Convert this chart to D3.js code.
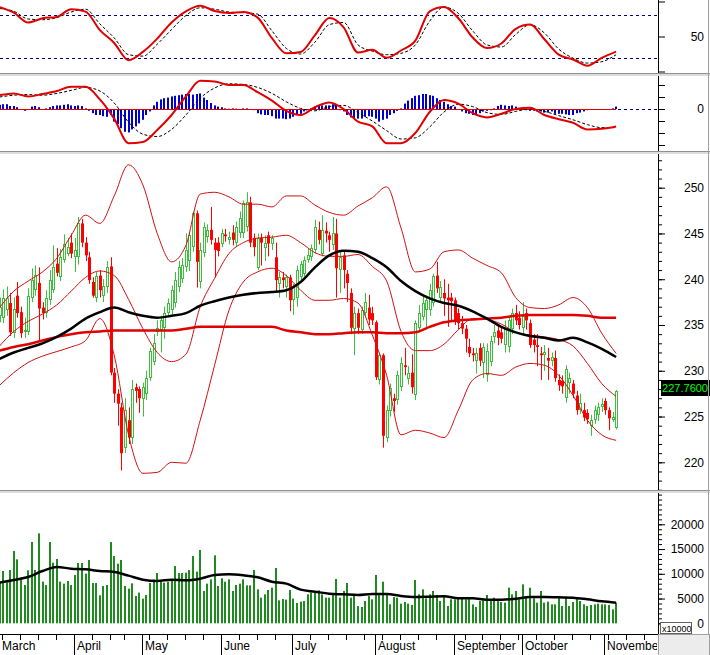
<!DOCTYPE html>
<html>
<head>
<meta charset="utf-8">
<script src="https://cdn.jsdelivr.net/npm/d3@7/dist/d3.min.js"></script>
<style>
  body { margin: 0; background: #fff; }
  svg { display: block; }
  text { font-family: "Liberation Sans", Arial, sans-serif; font-size: 12px; fill: #000; }
</style>
</head>
<body>
<svg id="chart" width="710" height="655"></svg>
<script>
// ---- data (index = trading day from 1 March) ----
const monthLabels = ['March','April','May','June','July','August','September','October','November'];
const holidays = ['2024-04-18','2024-04-29','2024-04-30','2024-05-01','2024-09-02','2024-09-03'];

const opens = [236.0,235.8,236.6,237.4,234.1,238.2,236.4,234.2,234.2,238.0,
  238.8,239.6,236.9,236.3,237.7,238.8,241.7,240.2,242.1,242.8,
  244.0,242.4,242.4,246.1,244.0,242.4,239.7,238.0,240.4,238.2,
  239.1,241.4,229.8,227.5,226.0,221.6,224.6,222.7,228.2,228.0,
  226.9,227.5,229.2,231.0,234.2,234.4,234.7,236.3,236.6,237.4,
  239.1,240.0,241.3,242.0,243.5,247.2,239.7,242.9,244.6,245.4,
  244.0,244.0,243.9,244.9,244.3,245.1,244.0,245.0,245.1,245.7,
  248.4,244.5,241.2,244.5,243.4,244.8,243.9,242.4,239.5,240.2,
  239.1,240.2,237.7,238.0,240.2,240.6,242.1,242.4,243.2,245.4,
  242.8,245.3,244.8,243.7,245.0,241.0,242.6,240.6,238.5,234.6,
  236.3,234.4,236.3,236.9,236.3,235.3,229.0,231.7,222.7,225.6,
  227.0,226.8,228.2,230.6,229.1,229.8,227.3,234.7,235.9,236.6,
  236.6,237.4,240.4,238.0,238.5,238.0,238.0,237.7,236.3,235.2,
  234.6,232.6,231.9,231.1,232.5,230.8,229.5,231.0,233.7,234.4,
  234.2,232.8,232.6,234.6,236.3,235.8,234.7,236.3,235.2,233.4,
  232.8,231.9,231.7,231.4,231.1,231.4,229.0,228.9,227.0,228.7,
  228.6,227.3,225.7,225.7,225.4,224.0,224.6,225.2,226.0,226.7,
  225.7,224.6,223.8];
const highs = [238.0,238.9,239.2,238.5,238.0,239.7,237.0,235.8,239.0,241.2,
  241.5,241.3,237.5,238.8,241.0,243.7,243.4,243.3,244.9,244.5,
  245.0,244.5,246.8,246.6,244.6,243.0,240.2,240.8,241.0,240.0,
  242.0,242.4,230.3,228.0,226.5,227.0,226.0,229.0,228.6,228.3,
  228.7,230.0,232.5,234.0,235.5,236.0,237.0,237.9,239.3,240.8,
  242.0,242.3,245.0,245.2,247.4,247.5,244.0,246.2,246.0,247.9,
  244.5,244.6,245.5,245.5,245.2,245.9,246.3,247.4,248.6,249.5,
  249.0,245.0,245.0,245.0,244.8,245.2,244.8,244.0,240.8,240.8,
  240.5,240.5,239.5,241.5,242.0,242.5,243.3,243.8,246.5,246.3,
  247.0,246.2,245.2,246.8,246.6,243.0,243.0,241.0,239.0,237.0,
  236.8,237.0,238.5,238.3,237.0,235.5,232.0,231.9,226.2,228.6,
  227.5,230.0,231.5,232.5,230.5,231.8,235.5,237.2,238.2,238.2,
  239.5,240.6,241.9,239.8,240.0,239.5,238.5,238.0,236.8,236.0,
  235.0,233.5,232.5,232.5,233.0,233.0,233.0,233.8,235.0,235.0,
  234.8,235.5,236.0,236.8,237.2,236.5,237.5,236.8,235.6,234.0,
  234.0,232.6,232.8,232.5,232.0,232.2,229.6,229.5,230.6,229.8,
  229.0,227.8,227.5,226.5,225.8,225.2,226.2,226.5,227.0,227.0,
  226.0,225.5,227.9];
const lows = [235.3,235.2,236.0,233.8,233.6,235.8,233.6,233.6,233.9,237.5,
  238.2,233.3,235.6,235.8,237.2,238.5,240.3,239.8,241.8,242.5,
  242.3,240.8,241.6,243.5,242.0,239.5,238.0,237.5,238.0,237.5,
  238.5,229.5,226.5,224.0,219.1,221.0,222.0,222.0,226.5,225.4,
  225.0,226.8,228.9,230.6,233.8,232.0,233.5,236.0,236.2,236.9,
  238.6,239.6,240.8,240.9,243.0,239.1,239.0,242.4,244.0,243.8,
  240.2,242.5,243.5,244.1,243.8,243.7,243.5,244.5,244.5,245.2,
  243.5,242.5,241.0,241.5,242.0,242.5,243.2,238.5,238.0,239.0,
  238.0,236.5,236.1,237.0,239.8,240.3,241.8,242.0,242.8,243.8,
  242.5,244.0,243.0,243.2,238.0,238.5,239.0,237.5,234.0,231.7,
  234.0,234.0,236.0,235.0,235.0,229.0,228.5,221.6,222.2,225.0,
  225.5,226.3,227.8,229.5,228.5,227.5,226.8,234.2,235.5,234.5,
  236.0,237.0,238.5,237.5,236.0,234.8,235.5,235.0,234.5,234.0,
  232.0,231.5,231.0,229.7,230.5,229.2,228.8,230.5,233.0,232.8,
  233.0,232.0,232.0,234.0,235.0,234.5,234.0,234.5,232.5,232.0,
  230.5,229.0,230.0,229.0,230.5,228.8,227.8,227.5,226.5,227.5,
  227.0,225.2,225.3,224.5,224.2,222.9,224.2,224.5,225.5,225.2,
  223.5,224.4,223.6];
const closes = [237.0,237.9,238.0,234.2,236.8,236.3,234.1,234.5,238.2,239.9,
  240.5,236.8,236.3,238.0,239.9,241.3,240.7,242.4,243.9,243.5,
  242.8,243.2,246.1,244.0,242.6,239.9,238.2,240.4,238.8,239.3,
  241.3,229.8,227.5,226.4,221.0,225.7,222.7,228.0,227.8,227.0,
  228.2,229.2,232.2,233.0,234.7,235.5,236.3,237.4,238.8,239.9,
  241.3,241.6,243.2,244.8,247.2,241.9,243.2,245.7,245.4,244.3,
  243.2,243.1,245.0,244.7,244.6,244.3,245.7,246.7,248.3,248.4,
  244.0,243.5,244.5,244.0,244.0,243.9,244.5,239.9,240.2,239.9,
  240.2,237.7,239.1,241.0,241.7,242.1,242.6,243.4,245.7,244.3,
  245.4,245.0,244.3,245.0,241.2,242.4,241.0,239.6,234.7,236.3,
  234.7,236.6,237.5,235.6,235.5,229.3,231.7,222.9,225.7,228.1,
  226.7,229.5,230.8,230.4,229.8,228.2,235.2,236.3,237.4,237.7,
  238.8,240.4,239.0,239.1,237.9,237.7,237.6,235.5,235.2,234.6,
  233.5,231.9,231.7,231.9,231.1,232.6,232.2,233.3,234.2,233.6,
  233.5,234.7,235.5,236.3,235.5,235.0,236.0,235.5,232.8,232.8,
  232.6,231.7,232.0,231.1,231.5,229.2,228.4,228.3,230.2,229.2,
  227.5,225.7,226.5,224.9,224.7,224.6,225.7,226.0,226.4,225.7,
  224.8,225.0,227.76];
const volumes = [8200,10570,8210,10770,14610,12920,9220,7740,10700,16420,
  10770,18170,8410,7740,16420,12250,12990,8410,8010,8550,
  7740,9760,12180,12180,10030,12790,8140,8140,5650,7540,
  7740,16420,13600,12050,12790,7540,7000,8080,5520,6190,
  4980,5720,8140,8820,10160,8410,8210,8410,8750,11580,
  10160,10160,10230,10770,13600,10430,14810,6530,8010,8880,
  13730,7540,9090,8410,8880,6530,7740,8010,8880,7670,
  7670,10770,6860,5180,5850,6730,7200,11170,4640,4910,
  4780,6730,4980,4100,4370,4510,5850,6190,6390,6660,
  5850,5180,5180,5850,8950,5180,6530,8140,5180,5850,
  3500,3290,4510,5520,4840,9760,6060,8410,5720,3830,
  5310,5180,3970,4300,3970,3700,8750,5850,6860,5050,
  5850,6530,5720,4510,5520,3500,4840,4840,5180,5050,
  4840,5180,3830,3290,4510,4640,5720,4840,5180,4510,
  4300,4170,7200,5850,6530,4840,7870,5380,7200,5050,
  4170,6530,4170,4370,3830,3830,5310,3500,5310,3500,
  4300,5310,4510,3830,3500,3700,3830,3970,3830,3830,
  3700,2820,4170];
const macdHist = [0.7,0.8,0.8,0.5,0.5,0.3,0.0,-0.3,0.0,0.4,
  0.5,0.3,0.0,0.1,0.3,0.5,0.6,0.6,0.7,0.8,
  0.6,0.5,0.6,0.5,0.1,-0.3,-0.7,-1.0,-1.0,-1.2,
  -1.3,-1.0,-2.1,-2.5,-3.2,-3.8,-3.9,-3.4,-2.9,-2.4,
  -1.8,-1.0,-0.4,0.6,1.2,1.6,1.8,1.9,2.1,2.2,
  2.3,2.4,2.5,2.5,2.4,2.5,2.6,1.9,1.5,1.0,
  0.6,0.4,0.3,0.1,0.05,0.1,0.05,0.0,0.1,0.1,
  0.0,-0.2,-0.7,-0.9,-1.0,-1.0,-1.2,-1.6,-1.6,-1.6,
  -1.7,-1.6,-1.3,-1.0,-0.8,-0.4,-0.2,0.1,0.4,0.5,
  0.6,0.6,0.6,0.8,0.7,-0.2,-0.4,-1.0,-1.4,-1.5,
  -1.6,-1.6,-1.3,-1.2,-1.3,-1.6,-2.1,-1.8,-1.6,-1.0,
  -0.7,-0.3,0.1,0.9,1.4,1.8,2.2,2.3,2.5,2.5,
  2.3,2.2,1.8,1.5,1.2,0.8,0.5,0.4,-0.1,-0.4,
  -0.7,-0.8,-1.0,-1.0,-0.7,-0.4,-0.3,-0.2,0.1,0.5,
  0.7,0.6,0.5,0.6,0.4,0.1,-0.1,-0.2,-0.3,-0.3,
  -0.4,-0.4,-0.6,-0.6,-0.4,-0.8,-0.8,-0.8,-0.9,-1.0,
  -1.0,-0.7,-0.6,-0.4,-0.2,-0.1,-0.1,0.0,0.0,0.0,
  0.0,0.1,0.4];

// indicator lines, read every 4th trading day
const sampleIdx = [0,4,8,12,16,20,24,28,32,36,40,44,48,52,56,60,64,68,72,76,80,84,
  88,92,96,100,104,108,112,116,120,124,128,132,136,140,144,148,152,156,160,164,168,172];
const bbUpper = [236.9,238.7,239.8,240.8,242.3,244.8,247.0,246.1,249.1,252.5,250.3,245.0,241.9,243.7,
  249.3,249.5,249.0,248.2,248.2,247.9,249.1,249.1,248.1,247.3,247.0,248.0,248.9,250.1,245.6,240.8,
  241.1,243.0,243.2,242.3,241.5,240.7,238.0,236.9,236.8,237.2,238.0,236.9,234.1,231.9];
const bbMiddle = [232.7,234.3,235.4,236.2,237.2,238.7,240.2,240.9,240.4,237.8,234.6,232.0,231.0,231.8,
  237.0,240.1,242.8,244.0,244.5,244.6,244.8,244.0,242.9,242.5,242.5,242.7,241.4,239.8,234.3,232.2,
  232.2,232.9,234.5,235.7,235.6,235.1,234.2,233.9,233.7,233.4,232.7,230.8,228.6,227.2];
const bbLower = [228.4,229.8,230.9,231.6,232.1,232.6,233.3,235.7,231.7,223.0,218.8,218.9,220.0,219.9,
  224.6,230.6,236.6,239.7,240.8,241.2,240.4,238.8,237.7,237.7,237.9,237.4,233.9,229.5,223.0,223.5,
  223.2,222.7,225.7,229.0,229.7,229.5,230.4,230.8,230.6,229.5,227.3,224.6,223.0,222.4];
const maBlack = [231.3,232.0,232.5,233.0,233.7,234.6,235.7,236.4,236.9,236.4,236.0,235.8,236.0,236.3,
  237.1,237.6,238.0,238.3,238.5,238.6,238.8,239.7,241.3,242.6,243.1,243.0,242.3,241.3,239.8,238.7,
  237.9,237.4,237.1,236.5,235.7,234.8,234.2,233.8,233.6,233.3,233.6,233.1,232.4,231.5];
const maRed = [232.2,232.6,232.9,233.3,233.7,234.0,234.2,234.3,234.4,234.4,234.4,234.4,234.4,234.6,
  234.8,234.8,234.8,234.8,234.8,234.8,234.4,234.2,234.0,234.0,234.1,234.2,234.2,234.1,234.1,234.2,
  234.8,235.3,235.5,235.6,235.7,235.8,236.0,236.1,236.1,236.1,236.1,236.0,235.8,235.8];
const stochK = [92,84,70,76,78,89,85.6,59.2,40.8,16.2,28,47,70,86,94,86.5,83.5,85,77,47.6,26,28,
  52,76.3,63,27,31,19.5,30,44,86,92,76,48.5,33.5,40,61,67,46,24,17.2,8.2,19.5,28.5];
const stochD = [90,86,75,74,77,85,89,68,48,24,22,39,60,80,91,89,85,84,82,58,33,25,
  42,67,70,38,29,24,26,38,72,92,83,58,38,35,53,67,55,32,19,12,14,24];
const macdLine = [2.3,2.6,2.1,2.5,3.0,3.7,3.7,1.6,-1.6,-5.7,-5.5,-3.5,-1.0,2.1,4.7,4.6,4.0,4.0,2.8,1.4,-0.3,-1.0,
  0.3,1.1,0.0,-2.1,-2.9,-5.7,-5.7,-4.0,-0.5,1.5,0.9,-0.7,-1.4,-0.8,0.0,0.2,-1.0,-1.7,-2.3,-3.4,-3.3,-2.9];
const macdSignal = [2.0,2.3,2.4,2.3,2.6,3.1,3.6,3.0,1.0,-2.2,-4.2,-4.6,-3.4,-1.0,1.8,3.5,4.2,4.1,3.6,2.6,1.2,0.1,
  -0.3,0.4,0.6,-0.6,-2.0,-3.6,-5.0,-4.8,-3.0,-0.5,0.8,0.4,-0.6,-0.9,-0.4,0.0,-0.4,-1.1,-1.8,-2.6,-3.1,-3.1];
const volMA = [8209,8748,9354,10566,11374,11037,10903,10566,10364,9623,8815,8546,8815,8680,9017,9758,9893,
  9690,9287,8411,8007,6795,6391,5987,5853,5718,5920,5920,5516,5314,5381,5449,5045,5045,4775,4775,4977,
  5314,5314,5247,5179,4843,4439,4169];

const stochLevels = [20, 80];
const priceTicks = [220,225,230,235,240,245,250];
const volTicks = [0,5000,10000,15000,20000];

// ---- layout ----
const axisX = 658;
const panels = { stoch: [0, 73], macd: [76, 151], price: [153, 490], volume: [493, 634] };
const svg = d3.select('#chart');
const defs = svg.append('defs');
Object.entries(panels).forEach(([k, [t, b]]) => {
  defs.append('clipPath').attr('id', 'clip-' + k).append('rect')
    .attr('x', 0).attr('y', t).attr('width', axisX).attr('height', b - t);
});

const x = d3.scaleLinear().domain([0, 172]).range([-0.5, 616.1]);
const yStoch = d3.scaleLinear().domain([0, 100]).range([71.5, 1.5]);
const yMacd = d3.scaleLinear().domain([-6, 6]).range([145, 73]);
const yPrice = d3.scaleLinear().domain([220, 250]).range([462.3, 187.7]);
const yVol = d3.scaleLinear().domain([0, 20000]).range([623.3, 524.3]);

const px = i => Math.round(x(i));
const pts = arr => sampleIdx.map((idx, k) => [idx, arr[k]]);
const lineOf = y => d3.line().x(d => x(d[0])).y(d => y(d[1])).curve(d3.curveMonotoneX);
const bars = closes.map((c, i) => ({ i, o: opens[i], h: highs[i], l: lows[i], c, v: volumes[i], hist: macdHist[i] }));

// ---- stochastic ----
const gS = svg.append('g').attr('clip-path', 'url(#clip-stoch)');
gS.selectAll('line').data(stochLevels).join('line')
  .attr('x1', 0).attr('x2', axisX)
  .attr('y1', d => Math.round(yStoch(d)) + 0.5).attr('y2', d => Math.round(yStoch(d)) + 0.5)
  .attr('stroke', '#000080').attr('stroke-dasharray', '3,3');
gS.append('path').datum(pts(stochD)).attr('d', lineOf(yStoch))
  .attr('fill', 'none').attr('stroke', '#000').attr('stroke-dasharray', '3,2');
gS.append('path').datum(pts(stochK)).attr('d', lineOf(yStoch))
  .attr('fill', 'none').attr('stroke', '#e00000').attr('stroke-width', 2);

// ---- MACD ----
const gM = svg.append('g').attr('clip-path', 'url(#clip-macd)');
const y0m = Math.round(yMacd(0)) + 0.5;
gM.append('line').attr('x1', 0).attr('x2', axisX).attr('y1', y0m).attr('y2', y0m)
  .attr('stroke', '#000080').attr('stroke-dasharray', '3,3');
gM.selectAll('rect').data(bars).join('rect')
  .attr('x', d => px(d.i) - 1).attr('width', 2)
  .attr('y', d => Math.min(yMacd(d.hist), yMacd(0)))
  .attr('height', d => Math.abs(yMacd(d.hist) - yMacd(0)))
  .attr('fill', '#0000d0');
gM.append('line').attr('x1', 0).attr('x2', x(172)).attr('y1', y0m).attr('y2', y0m).attr('stroke', '#e00000');
gM.append('path').datum(pts(macdSignal)).attr('d', lineOf(yMacd))
  .attr('fill', 'none').attr('stroke', '#000').attr('stroke-dasharray', '3,2');
gM.append('path').datum(pts(macdLine)).attr('d', lineOf(yMacd))
  .attr('fill', 'none').attr('stroke', '#e00000').attr('stroke-width', 2);

// ---- price ----
const gP = svg.append('g').attr('clip-path', 'url(#clip-price)');
const up = '#3cbf3c', down = '#ff0000';
const candle = gP.selectAll('g').data(bars).join('g');
candle.append('line')
  .attr('x1', d => px(d.i) + 0.5).attr('x2', d => px(d.i) + 0.5)
  .attr('y1', d => yPrice(d.h)).attr('y2', d => yPrice(d.l))
  .attr('stroke', d => d.c >= d.o ? up : down);
candle.filter(d => d.c < d.o).append('rect')
  .attr('x', d => px(d.i) - 1).attr('width', 3)
  .attr('y', d => yPrice(d.o)).attr('height', d => Math.max(1, yPrice(d.c) - yPrice(d.o)))
  .attr('fill', down);
candle.filter(d => d.c >= d.o).append('rect')
  .attr('x', d => px(d.i) - 0.5).attr('width', 2)
  .attr('y', d => Math.round(yPrice(d.c)) + 0.5)
  .attr('height', d => Math.max(0.5, Math.round(yPrice(d.o)) - Math.round(yPrice(d.c)) - 1))
  .attr('fill', '#fff').attr('stroke', up);

[[bbUpper, 1], [bbMiddle, 1], [bbLower, 1]].forEach(([arr, w]) => {
  gP.append('path').datum(pts(arr)).attr('d', lineOf(yPrice))
    .attr('fill', 'none').attr('stroke', '#d01010').attr('stroke-width', w);
});
gP.append('path').datum(pts(maRed)).attr('d', lineOf(yPrice))
  .attr('fill', 'none').attr('stroke', '#e00000').attr('stroke-width', 2.5);
gP.append('path').datum(pts(maBlack)).attr('d', lineOf(yPrice))
  .attr('fill', 'none').attr('stroke', '#000').attr('stroke-width', 2.5);

// ---- volume ----
const gV = svg.append('g').attr('clip-path', 'url(#clip-volume)');
gV.selectAll('rect').data(bars).join('rect')
  .attr('x', d => px(d.i) - 1).attr('width', 2)
  .attr('y', d => yVol(d.v)).attr('height', d => yVol(0) - yVol(d.v))
  .attr('fill', '#1f8a1f');
gV.append('path').datum(pts(volMA)).attr('d', lineOf(yVol))
  .attr('fill', 'none').attr('stroke', '#000').attr('stroke-width', 2.5);

// ---- right axes ----
function rightAxis(scale, [t, b], majors, minors, fmt) {
  const g = svg.append('g').attr('transform', `translate(${axisX},0)`);
  g.append('line').attr('x1', 0.5).attr('x2', 0.5).attr('y1', t).attr('y2', b).attr('stroke', '#000');
  if (minors) {
    g.append('g').call(d3.axisRight(scale).tickValues(minors).tickSize(4).tickFormat(''))
      .call(s => s.select('.domain').remove());
  }
  const gm = g.append('g').call(d3.axisRight(scale).tickValues(majors).tickSize(7).tickFormat(fmt));
  gm.select('.domain').remove();
  gm.selectAll('text').attr('x', 46).attr('text-anchor', 'end');
}
rightAxis(yStoch, panels.stoch, [0, 50, 100], null, d => d === 50 ? '50' : '');
rightAxis(yMacd, panels.macd, [-6, -4, -2, 0, 2, 4], null, d => d === 0 ? '0' : '');
rightAxis(yPrice, panels.price, priceTicks, d3.range(217, 254), d3.format('d'));
rightAxis(yVol, panels.volume, volTicks, d3.range(0, 26001, 1000), d3.format('d'));

// last price tag
const last = closes[closes.length - 1];
const ly = Math.round(yPrice(last)) - 3;
svg.append('rect').attr('x', 661).attr('y', ly - 8).attr('width', 49).attr('height', 16).attr('fill', '#000');
svg.append('text').attr('x', 708).attr('y', ly + 4).attr('text-anchor', 'end')
  .style('fill', '#00ff00').style('font-size', '11px').text(last.toFixed(4));

// volume multiplier box
svg.append('rect').attr('x', 660.5).attr('y', 622.5).attr('width', 31).attr('height', 11)
  .attr('fill', '#fff').attr('stroke', '#606060');
svg.append('text').attr('x', 662).attr('y', 631.5).style('font-size', '9px').text('x10000');

// ---- time axis ----
const fmtDay = d3.timeFormat('%Y-%m-%d');
const days = [];
for (let d = new Date(2024, 2, 1); days.length < 186; d = d3.timeDay.offset(d, 1)) {
  if (d.getDay() === 0 || d.getDay() === 6 || holidays.includes(fmtDay(d))) continue;
  days.push(d);
}
const weekStarts = [], monthStarts = [];
days.forEach((d, i) => {
  if (i === 0 || d.getMonth() !== days[i - 1].getMonth()) monthStarts.push(i);
  else if (d.getDay() <= days[i - 1].getDay()) weekStarts.push(i);
});
defs.append('clipPath').attr('id', 'clip-time').append('rect')
  .attr('x', 0).attr('y', 634).attr('width', axisX - 1).attr('height', 21);
const gT = svg.append('g').attr('clip-path', 'url(#clip-time)');
gT.selectAll('line.wk').data(weekStarts).join('line').attr('class', 'wk')
  .attr('x1', d => px(d) - 0.5).attr('x2', d => px(d) - 0.5).attr('y1', 634).attr('y2', 640)
  .attr('stroke', '#000');
gT.selectAll('line.mo').data(monthStarts).join('line').attr('class', 'mo')
  .attr('x1', d => px(d) - 0.5).attr('x2', d => px(d) - 0.5).attr('y1', 634).attr('y2', 655)
  .attr('stroke', '#000');
gT.selectAll('text').data(monthStarts).join('text')
  .attr('x', d => px(d) + 2).attr('y', 650)
  .text((d, k) => monthLabels[k]);
svg.append('line').attr('x1', 0).attr('x2', axisX + 1).attr('y1', 634.5).attr('y2', 634.5).attr('stroke', '#000');
svg.append('rect').attr('x', axisX + 0.5).attr('y', 634.5).attr('width', 51).attr('height', 21)
  .attr('fill', '#ececec').attr('stroke', '#a0a0a0');

// ---- panel separators and frame ----
[73, 151, 490].forEach(yy => {
  svg.append('rect').attr('x', 0).attr('y', yy).attr('width', 710).attr('height', 3).attr('fill', '#dcdcdc');
  svg.append('line').attr('x1', 0).attr('x2', 710).attr('y1', yy + 0.5).attr('y2', yy + 0.5).attr('stroke', '#909090');
});
svg.append('line').attr('x1', 708.5).attr('x2', 708.5).attr('y1', 0).attr('y2', 634).attr('stroke', '#a0a0a0');
</script>
</body>
</html>
